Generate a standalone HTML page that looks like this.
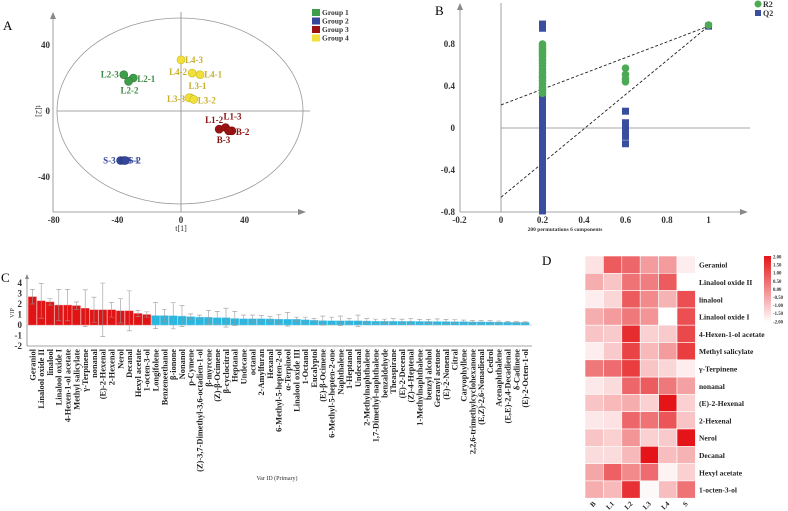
<!DOCTYPE html>
<html><head><meta charset="utf-8">
<style>
body{margin:0;background:#fff;}
svg{display:block;font-family:"Liberation Serif",serif;}
</style></head>
<body>
<svg id="fig" width="788" height="511" viewBox="0 0 788 511" xmlns="http://www.w3.org/2000/svg">
<g id="pA"></g>
<g id="pB"></g>
<g id="pC"></g>
<g id="pD"></g>
</svg>
<script>
// ===== Panel A data =====
const aLabels=["L2-3","L2-1","L2-2","S-3","S-1","S-2","L1-2","L1-3","B-2","B-3","L4-3","L4-2","L4-1","L3-1","L3-3","L3-2"];
const aX=[-36,-30,-33,-38,-36,-35,24,28,32,30,0,7,12,6,5,8];
const aY=[22,20,18,-30,-30,-30,-11,-10,-12,-12,31,23,22,8,8,7];
const aGroup=[1,1,1,2,2,2,3,3,3,3,4,4,4,4,4,4];
const aGroupNames=["Group 1","Group 2","Group 3","Group 4"];
const aXTicks=[-80,-40,0,40];
const aYTicks=[40,0,-40];
// ===== Panel B data =====
const bR2X=[0.2,0.2,0.2,0.2,0.2,0.2,0.2,0.2,0.2,0.2,0.2,0.2,0.2,0.2,0.2,0.2,0.2,0.2,0.2,0.2,0.6,0.6,0.6,0.6,1];
const bR2Y=[0.33,0.36,0.39,0.42,0.45,0.48,0.5,0.53,0.56,0.59,0.62,0.65,0.68,0.7,0.72,0.74,0.76,0.78,0.8,0.37,0.44,0.47,0.51,0.57,0.98];
const bQ2X=[];const bQ2Y=[];
const bQ2Col02=[0.99,0.95,0.28,0.25,0.22,0.2,0.17,0.14,0.11,0.08,0.05,0.02,-0.01,-0.04,-0.07,-0.1,-0.13,-0.16,-0.19,-0.22,-0.25,-0.28,-0.31,-0.34,-0.37,-0.4,-0.43,-0.46,-0.49,-0.52,-0.55,-0.58,-0.61,-0.64,-0.67,-0.7,-0.73,-0.76,-0.79];
const bQ2Col06=[0.16,0.05,0.02,-0.02,-0.05,-0.08,-0.15];
const bQ2Final=[0.97];
const bLineR2=[0.22,0.97];
const bLineQ2=[-0.66,0.97];
const bXTicks=[-0.2,0,0.2,0.4,0.6,0.8,1];
const bXTickLabels=["-0.2","0","0.2","0.4","0.6","0.8","1"];
const bYTicks=[0.8,0.4,0,-0.4,-0.8];
const bYTickLabels=["0.8","0.4","0","-0.4","-0.8"];
// ===== Panel C data =====
const cNames=["Geraniol","Linalool oxide II","linalool","Linalool oxide I","4-Hexen-1-ol acetate","Methyl salicylate","γ-Terpinene","nonanal","(E)-2-Hexenal","2-Hexenal","Nerol","Decanal","Hexyl acetate","1-octen-3-ol","Longifolene","Benzeneethanol","β-ionone","Nonanol","p-Cymene","(Z)-3,7-Dimethyl-3,6-octadien-1-ol","β-myrcene","(Z)-β-Ocimene","β-cyclocitral","Heptanal","Undecane","octanal","2-Amylfuran","Hexanal","6-Methyl-5-hepten-2-ol","α-Terpineol","Linalool oxide III","1-Octanol","Eucalyptol","(E)-β-Ocimene","6-Methyl-5-hepten-2-one","Naphthalene","1-Heptanol","Undecanal","2-Methylnaphthalene","1,7-Dimethyl-naphthalene","benzaldehyde","Theaspirane","(E)-2-Decenal","(Z)-4-Heptenal","1-Methylnaphthalene","benzyl alcohol","Geranyl acetone","(E)-2-Nonenal","Citral","Caryophyllene","2,2,6-trimethylcyclohexanone","(E,Z)-2,6-Nonadienal","Cedrol","Acenaphthalene","(E,E)-2,4-Decadienal","δ-Cadinene","(E)-2-Octen-1-ol"];
const cVip=[2.7,2.3,2.2,1.9,1.9,1.85,1.6,1.45,1.45,1.45,1.35,1.35,1.1,1.0,0.9,0.9,0.88,0.85,0.8,0.75,0.74,0.7,0.7,0.62,0.6,0.6,0.6,0.58,0.56,0.55,0.55,0.5,0.45,0.42,0.4,0.4,0.4,0.4,0.38,0.36,0.36,0.35,0.35,0.35,0.34,0.34,0.33,0.33,0.32,0.32,0.3,0.3,0.29,0.28,0.27,0.26,0.25];
const cErr=[0.7,1.65,0.3,1.5,1.5,0.35,1.75,1.2,2.55,0.7,1.15,1.9,0.3,0.25,1.25,0.6,1.25,1.0,0.25,0.2,0.65,0.6,0.9,0.68,0.35,0.35,0.3,0.22,0.44,0.65,0.2,0.25,0.15,0.43,0.35,0.45,0.2,0.55,0.22,0.2,0.2,0.25,0.2,0.28,0.2,0.2,0.25,0.2,0.18,0.15,0.12,0.12,0.12,0.1,0.08,0.06,0.05];
const cYTicks=[4,3,2,1,0,-1,-2];
const cRedCount=14;
// ===== Panel D data =====
const dRows=["Geraniol","Linalool oxide II","linalool","Linalool oxide I","4-Hexen-1-ol acetate","Methyl salicylate","γ-Terpinene","nonanal","(E)-2-Hexenal","2-Hexenal","Nerol","Decanal","Hexyl acetate","1-octen-3-ol"];
const dCols=["B","L1","L2","L3","L4","S"];
const dB =[-1.5,-0.6,-1.7,-0.6,-1.0,-1.7,0.3,-1.6,-1.0,-1.6,-1.0,-1.4,-0.5,-0.6];
const dL1=[0.8,-1.0,-1.3,-0.3,-1.1,-1.1,0.5,-1.4,-0.8,-1.5,-1.2,-1.4,0.7,-0.8];
const dL2=[0.6,0.4,0.8,0.3,1.6,1.2,1.3,0.6,-0.6,0.6,-0.2,-0.8,0.0,1.5];
const dL3=[-0.3,0.2,0.0,-0.2,-1.2,-0.8,-1.0,0.8,-1.2,0.4,-1.2,2.0,0.5,-1.9];
const dL4=[-0.3,0.8,-0.7,-2.0,-1.1,-0.3,-1.3,0.3,2.0,0.9,-1.1,-0.9,-1.8,-0.9];
const dS =[-1.7,-2.0,1.0,1.0,1.1,1.3,-1.7,-0.4,-1.2,-1.0,2.0,-0.7,-1.2,0.4];
const dScaleTicks=["2.00","1.50","1.00","0.50","0.00","-0.50","-1.00","-1.50","-2.00"];

const NS="http://www.w3.org/2000/svg";
function mk(parent,tag,attrs,text){const e=document.createElementNS(NS,tag);for(const k in attrs)e.setAttribute(k,attrs[k]);if(text!==undefined)e.textContent=text;parent.appendChild(e);return e;}

// ---------- Panel A ----------
(function(){
const g=document.getElementById('pA');
const sx=v=>181+v*1.59, sy=v=>111-v*1.65;
let t=mk(g,'text',{x:3,y:30,'font-size':13});t.textContent='A';


let e=mk(g,'ellipse',{cx:180,cy:111,rx:123,ry:93,fill:'none',stroke:'#999','stroke-width':0.8});


mk(g,'line',{x1:53,y1:14,x2:53,y2:212,stroke:'#888','stroke-width':0.8});
mk(g,'path',{d:'M50,19 L53,12 L56,19Z',fill:'#888'});
mk(g,'line',{x1:53,y1:212,x2:303,y2:212,stroke:'#888','stroke-width':0.8});
mk(g,'path',{d:'M298,209 L306,212 L298,215Z',fill:'#888'});
mk(g,'line',{x1:181,y1:12,x2:181,y2:212,stroke:'#888','stroke-width':0.8});
mk(g,'line',{x1:57,y1:111,x2:310,y2:111,stroke:'#888','stroke-width':0.8});
aXTicks.forEach(v=>{const tk=mk(g,'text',{x:sx(v),y:223,'font-size':9,'font-weight':'bold','text-anchor':'middle',fill:'#333'},String(v));

});
aYTicks.forEach(v=>{const tk=mk(g,'text',{x:50,y:sy(v)+3,'font-size':9,'font-weight':'bold','text-anchor':'end',fill:'#333'},String(v));

});
t=mk(g,'text',{x:181,y:231,'font-size':8,'text-anchor':'middle',fill:'#333'},'t[1]');


t=mk(g,'text',{x:0,y:0,'font-size':8,'text-anchor':'middle',fill:'#333',transform:'translate(36,111) rotate(90)'},'t[2]');


const fill=['#3f9e4a','#34479a','#9b1212','#f1e03a'], stroke=['#2e7a37','#27357a','#7a0e0e','#c9b826'], txt=['#3e8a44','#34479a','#8a1010','#c9b030'];
const offs={"L2-3":[-5,3,'end'],"L2-1":[4,4,'start'],"L2-2":[-8,12,'start'],"S-3":[-5,3,'end'],"S-1":[3,3,'start'],"S-2":[3,3,'start'],"L1-2":[-14,-6,'start'],"L1-3":[-2,-8,'start'],"B-2":[4,4,'start'],"B-3":[-12,12,'start'],"L4-3":[4,3,'start'],"L4-2":[-5,2,'end'],"L4-1":[4,3,'start'],"L3-1":[-2,-9,'start'],"L3-3":[-4,4,'end'],"L3-2":[4,4,'start']};
aX.forEach((v,i)=>{const gi=aGroup[i]-1;
const c=mk(g,'circle',{cx:sx(v),cy:sy(aY[i]),r:4,fill:fill[gi],stroke:stroke[gi],'stroke-width':0.6});


const o=offs[aLabels[i]]||[4,3,'start'];
const l=mk(g,'text',{x:sx(v)+o[0],y:sy(aY[i])+o[1],'font-size':9,'font-weight':'bold','text-anchor':o[2],fill:txt[gi]},aLabels[i]);

});
aGroupNames.forEach((n,i)=>{const r=mk(g,'rect',{x:312,y:9+i*8.5,width:8,height:7,fill:fill[i]});


const l=mk(g,'text',{x:322,y:15+i*8.5,'font-size':7.5,'font-weight':'bold',fill:'#333'},n);

});
})();

// ---------- Panel B ----------
(function(){
const g=document.getElementById('pB');
const sx=v=>501+v*207.5, sy=v=>128-v*105;
let t=mk(g,'text',{x:435,y:15,'font-size':13},'B');


mk(g,'line',{x1:460,y1:6,x2:460,y2:212,stroke:'#888','stroke-width':0.8});
mk(g,'path',{d:'M457,10 L460,3 L463,10Z',fill:'#888'});
mk(g,'line',{x1:460,y1:212,x2:745,y2:212,stroke:'#888','stroke-width':0.8});
mk(g,'path',{d:'M740,209 L748,212 L740,215Z',fill:'#888'});
mk(g,'line',{x1:501,y1:3,x2:501,y2:212,stroke:'#888','stroke-width':0.8});
mk(g,'line',{x1:501,y1:sy(0),x2:750,y2:sy(0),stroke:'#888','stroke-width':0.8});
bXTicks.forEach((v,i)=>{const tk=mk(g,'text',{x:sx(v),y:223,'font-size':9,'font-weight':'bold','text-anchor':'middle',fill:'#333'},bXTickLabels[i]);

});
bYTicks.forEach((v,i)=>{const tk=mk(g,'text',{x:455,y:sy(v)+3,'font-size':9,'font-weight':'bold','text-anchor':'end',fill:'#333'},bYTickLabels[i]);

});
t=mk(g,'text',{x:565,y:231,'font-size':5.5,'font-weight':'bold','text-anchor':'middle',fill:'#333'},'200 permutations 6 components');


let l=mk(g,'line',{x1:sx(0),y1:sy(bLineR2[0]),x2:sx(1),y2:sy(bLineR2[1]),stroke:'#222','stroke-width':0.9,'stroke-dasharray':'3,2'});


l=mk(g,'line',{x1:sx(0),y1:sy(bLineQ2[0]),x2:sx(1),y2:sy(bLineQ2[1]),stroke:'#222','stroke-width':0.9,'stroke-dasharray':'3,2'});


bQ2Col02.forEach(v=>{bQ2X.push(0.2);bQ2Y.push(v);});
bQ2Col06.forEach(v=>{bQ2X.push(0.6);bQ2Y.push(v);});
bQ2Final.forEach(v=>{bQ2X.push(1);bQ2Y.push(v);});
bQ2X.forEach((x,i)=>{const r=mk(g,'rect',{x:sx(x)-3.5,y:sy(bQ2Y[i])-3.5,width:7,height:7,fill:'#3a4ea0'});

});
bR2X.forEach((x,i)=>{const c=mk(g,'circle',{cx:sx(x),cy:sy(bR2Y[i]),r:3.8,fill:'#4caa55'});

});
let c=mk(g,'circle',{cx:758,cy:4,r:3.5,fill:'#4caa55'});


t=mk(g,'text',{x:763,y:7,'font-size':8,'font-weight':'bold',fill:'#333'},'R2');


c=mk(g,'rect',{x:755,y:10,width:6,height:6,fill:'#3a4ea0'});


t=mk(g,'text',{x:763,y:16,'font-size':8,'font-weight':'bold',fill:'#333'},'Q2');


})();

// ---------- Panel C ----------
(function(){
const g=document.getElementById('pC');
const x0=28, bw=8.8, sy=v=>325-v*10.5;
let t=mk(g,'text',{x:1,y:282,'font-size':13},'C');


mk(g,'line',{x1:27,y1:276,x2:27,y2:346,stroke:'#888','stroke-width':0.8});
mk(g,'path',{d:'M25,279 L27,274 L29,279Z',fill:'#888'});
mk(g,'line',{x1:27,y1:346,x2:532,y2:346,stroke:'#888','stroke-width':0.8});
mk(g,'line',{x1:27,y1:sy(0),x2:532,y2:sy(0),stroke:'#aaa','stroke-width':0.5});
cYTicks.forEach(v=>{const tk=mk(g,'text',{x:22,y:sy(v)+3,'font-size':9,'font-weight':'bold','text-anchor':'end',fill:'#333'},String(v));

});
t=mk(g,'text',{x:0,y:0,'font-size':6,'text-anchor':'middle',fill:'#333',transform:'translate(14,313) rotate(-90)'},'VIP');


t=mk(g,'text',{x:277,y:480,'font-size':6,'text-anchor':'middle',fill:'#333'},'Var ID (Primary)');


cVip.forEach((v,i)=>{const xc=x0+i*bw+bw/2;
const red=i<cRedCount;
const r=mk(g,'rect',{x:x0+i*bw+0.3,y:sy(v),width:bw-0.6,height:sy(0)-sy(v),fill:red?'#e01414':'#29b6df',stroke:red?'#f08080':'#7fd3ee','stroke-width':0.4});


const hi=sy(v+cErr[i]), lo=sy(v-cErr[i]);
const eb=mk(g,'path',{d:`M${xc},${hi}V${lo}M${xc-2.5},${hi}H${xc+2.5}M${xc-2.5},${lo}H${xc+2.5}`,stroke:'#999','stroke-width':0.6,fill:'none'});


const lb=mk(g,'text',{x:0,y:0,'font-size':8.4,'font-weight':'bold','text-anchor':'end',fill:'#222',transform:`translate(${xc+2.9},349) rotate(-90)`},cNames[i]);

});
})();

// ---------- Panel D ----------
(function(){
const g=document.getElementById('pD');
const x0=585,cw=18.4,y0=256,rh=17.3;
let t=mk(g,'text',{x:542,y:265,'font-size':13},'D');


const cols=[dB,dL1,dL2,dL3,dL4,dS];
function color(v){const f=Math.max(0,Math.min(1,(v+2)/4));const r=Math.round(255+(228-255)*f),gg=Math.round(255+(20-255)*f),b=Math.round(255+(24-255)*f);return `rgb(${r},${gg},${b})`;}
cols.forEach((col,ci)=>{col.forEach((v,ri)=>{const r=mk(g,'rect',{x:x0+ci*cw,y:y0+ri*rh,width:cw,height:rh,fill:color(v),stroke:'#fff','stroke-width':0.6});

});});
dRows.forEach((n,ri)=>{const l=mk(g,'text',{x:699,y:y0+ri*rh+rh/2+3,'font-size':7.5,'font-weight':'bold',fill:'#222'},n);

});
dCols.forEach((n,ci)=>{const xc=x0+ci*cw+cw/2;const l=mk(g,'text',{x:0,y:0,'font-size':7,'font-weight':'bold','text-anchor':'end',fill:'#222',transform:`translate(${xc+2},${y0+14*rh+6}) rotate(-45)`},n);

});
const defs=mk(g,'defs',{});const gr=mk(defs,'linearGradient',{id:'cbar',x1:0,y1:0,x2:0,y2:1});
mk(gr,'stop',{offset:'0','stop-color':'#e41418'});mk(gr,'stop',{offset:'1','stop-color':'#ffffff'});
const cb=mk(g,'rect',{x:764,y:256,width:7,height:66,fill:'url(#cbar)'});


dScaleTicks.forEach((s,i)=>{const l=mk(g,'text',{x:773,y:258.5+i*8.1,'font-size':4.8,'font-weight':'bold',fill:'#333'},s);

});
})();
</script>
</body></html>
